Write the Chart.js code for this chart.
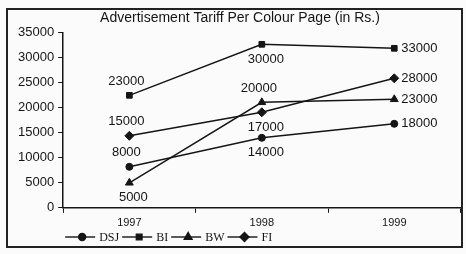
<!DOCTYPE html>
<html>
<head>
<meta charset="utf-8">
<script src="https://cdn.jsdelivr.net/npm/chart.js@4.4.1/dist/chart.umd.min.js"></script>
<style>
  html, body { margin: 0; padding: 0; background: #fbfbfb; }
  #wrap { width: 466px; height: 254px; }
</style>
</head>
<body>
<div id="wrap"><canvas id="chart"></canvas></div>
<script>
// Data
const years = ['1997', '1998', '1999'];
const dsj = [8200, 14000, 16800];
const bi = [22500, 32700, 31900];
const bw = [5000, 21100, 21700];
const fi = [14400, 19100, 25900];

// Value labels as printed (they don't all match the plotted points)
const dsjLabels = ['8000', '14000', '18000'];
const biLabels = ['23000', '30000', '33000'];
const bwLabels = ['5000', '20000', '23000'];
const fiLabels = ['15000', '17000', '28000'];

const yMin = 0;
const yMax = 35000;
const yStep = 5000;

const ink = '#151515';

function series(label, data, texts, pointStyle, radius, labelPos) {
  return {
    label: label,
    data: data,
    texts: texts,
    labelPos: labelPos,
    borderColor: ink,
    backgroundColor: ink,
    borderWidth: 1.4,
    pointStyle: pointStyle,
    pointRadius: radius,
    pointBorderWidth: 1,
    pointBackgroundColor: ink,
    pointBorderColor: ink,
    tension: 0
  };
}

// Print the value labels next to each point
const valueLabels = {
  id: 'valueLabels',
  afterDatasetsDraw(chart) {
    const ctx = chart.ctx;
    ctx.save();
    ctx.font = '13px "Liberation Sans", Arial, sans-serif';
    ctx.fillStyle = ink;
    chart.data.datasets.forEach((ds, i) => {
      const meta = chart.getDatasetMeta(i);
      meta.data.forEach((pt, j) => {
        const pos = ds.labelPos[j];
        let x = pt.x, y = pt.y;
        if (pos === 'above') {
          ctx.textAlign = 'center'; y -= 14; x -= 3;
        } else if (pos === 'below') {
          ctx.textAlign = 'center'; y += 15; x += 4;
        } else {
          ctx.textAlign = 'left'; x += 7;
        }
        ctx.textBaseline = 'middle';
        ctx.fillText(ds.texts[j], x, y);
      });
    });
    ctx.restore();
  }
};

// Legend drawn as line + marker + name, like the print
const lineLegend = {
  id: 'lineLegend',
  afterDraw(chart) {
    const ctx = chart.ctx;
    const y = 237;
    let x = chart.chartArea.left + 2;
    ctx.save();
    ctx.font = '12px "Liberation Serif", "Times New Roman", serif';
    ctx.textBaseline = 'middle';
    ctx.textAlign = 'left';
    chart.data.datasets.forEach((ds) => {
      ctx.strokeStyle = ink;
      ctx.lineWidth = 1.4;
      ctx.beginPath();
      ctx.moveTo(x, y);
      ctx.lineTo(x + 30, y);
      ctx.stroke();
      ctx.fillStyle = ink;
      Chart.helpers.drawPoint(ctx, {
        pointStyle: ds.pointStyle,
        radius: ds.pointRadius,
        rotation: 0,
        borderWidth: 1
      }, x + 17, y);
      ctx.fillStyle = ink;
      ctx.fillText(ds.label, x + 34, y + 1);
      x += 34 + ctx.measureText(ds.label).width + 3;
    });
    ctx.restore();
  }
};

// Border round the whole figure
const frame = {
  id: 'frame',
  afterDraw(chart) {
    const ctx = chart.ctx;
    ctx.save();
    ctx.strokeStyle = '#222';
    ctx.lineWidth = 2;
    ctx.strokeRect(7, 9, 455, 238);
    ctx.restore();
  }
};

const ctx = document.getElementById('chart');
const chart = new Chart(ctx, {
  type: 'line',
  data: {
    labels: years,
    datasets: [
      series('DSJ', dsj, dsjLabels, 'circle', 3.5, ['above', 'below', 'right']),
      series('BI', bi, biLabels, 'rect', 4, ['above', 'below', 'right']),
      series('BW', bw, bwLabels, 'triangle', 4.5, ['below', 'above', 'right']),
      series('FI', fi, fiLabels, 'rectRot', 4.5, ['above', 'below', 'right'])
    ]
  },
  options: {
    responsive: true,
    maintainAspectRatio: false,
    animation: false,
    layout: {
      padding: { left: 14, right: 0, top: 0, bottom: 20 }
    },
    plugins: {
      legend: { display: false },
      tooltip: { enabled: false },
      title: {
        display: true,
        text: 'Advertisement Tariff Per Colour Page (in Rs.)',
        color: ink,
        font: { family: '"Liberation Sans", Arial, sans-serif', size: 14, weight: 'normal' },
        padding: { top: 10, bottom: 6 }
      }
    },
    scales: {
      x: {
        offset: true,
        border: { display: true, color: ink, width: 1.5 },
        grid: {
          display: true,
          offset: true,
          drawOnChartArea: false,
          drawTicks: true,
          tickLength: 5,
          color: ink
        },
        ticks: {
          color: ink,
          padding: 4,
          font: { family: '"Liberation Sans", Arial, sans-serif', size: 11 }
        }
      },
      y: {
        min: yMin,
        max: yMax,
        border: { display: true, color: ink, width: 1.5 },
        grid: {
          display: true,
          drawOnChartArea: false,
          drawTicks: true,
          tickLength: 5,
          color: ink
        },
        ticks: {
          stepSize: yStep,
          color: ink,
          padding: 4,
          font: { family: '"Liberation Sans", Arial, sans-serif', size: 13 },
          callback: (value) => String(value)
        }
      }
    }
  },
  plugins: [valueLabels, lineLegend, frame]
});
</script>
</body>
</html>
